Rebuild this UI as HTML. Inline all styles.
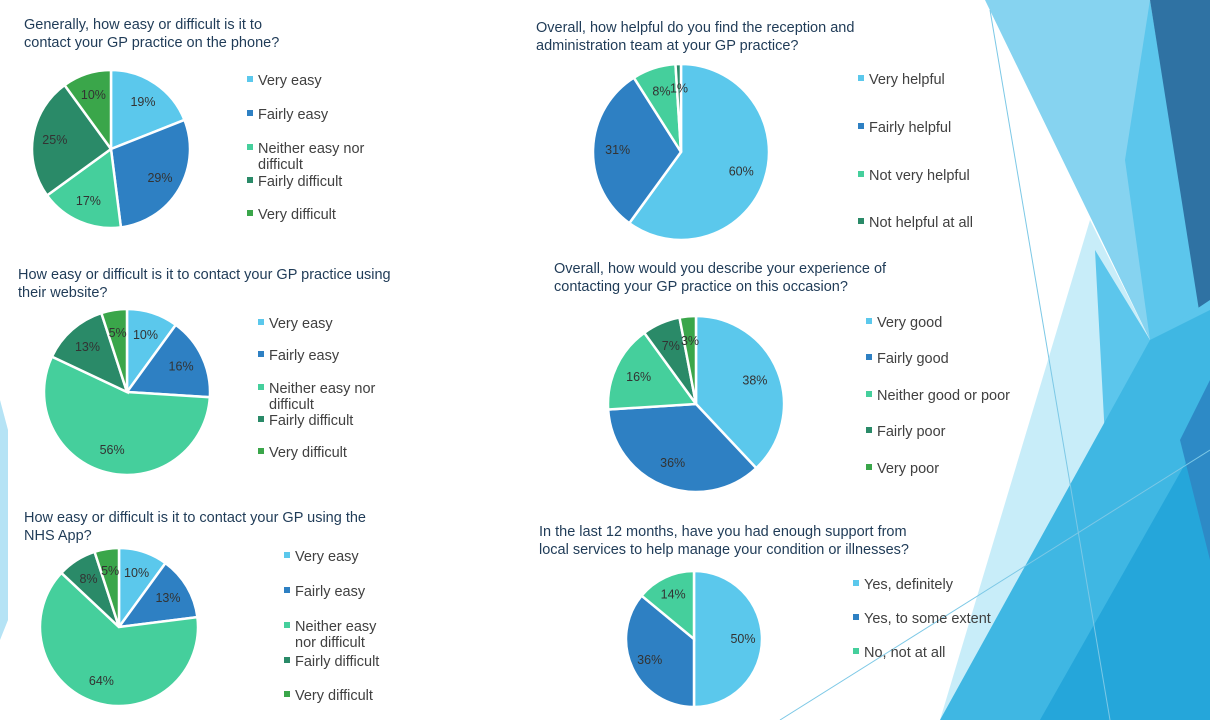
<!DOCTYPE html>
<html><head><meta charset="utf-8">
<style>
body{margin:0;width:1210px;height:720px;overflow:hidden;background:#fff;font-family:"Liberation Sans",sans-serif;}
svg{position:absolute;left:0;top:0}
.t{font-size:14.5px;fill:#1f3b57}
.l{font-size:14.5px;fill:#404040}
.p{font-size:12.5px;fill:#333}
</style></head><body>
<svg width="1210" height="720">
<g>
<polygon points="985,0 1150,0 1210,370 1210,720 1150,340" fill="#86d3f0"/>
<polygon points="1150,0 1210,370 1150,340 1125,160" fill="#5cc6ec"/>
<polygon points="1150,0 1210,0 1210,380" fill="#2f72a3"/>
<polygon points="1090,220 1150,340 955,720 940,720" fill="#c8edf9"/>
<polygon points="1095,250 1150,340 1210,300 1210,720 1120,720" fill="#5cc6ec"/>
<polygon points="940,720 1150,340 1210,310 1210,720" fill="#3fb7e3"/>
<polygon points="1040,720 1210,420 1210,720" fill="#25a6da"/>
<polygon points="1180,440 1210,380 1210,560" fill="#2d8ac6"/>
<polygon points="0,400 8,430 8,620 0,640" fill="#b5e3f5"/>
<line x1="990" y1="10" x2="1110" y2="720" stroke="#7cc8e6" stroke-width="1"/>
<line x1="780" y1="720" x2="1210" y2="450" stroke="#7cc8e6" stroke-width="1"/>
</g>
<g id="charts"></g>
</svg>
<script>
const cats1=["Very easy","Fairly easy","Neither easy nor|difficult","Fairly difficult","Very difficult"];
const vals1=[19,29,17,25,10];
const vals2=[10,16,56,13,5];
const vals3=[10,13,64,8,5];
const cats3=["Very easy","Fairly easy","Neither easy|nor difficult","Fairly difficult","Very difficult"];
const cats4=["Very helpful","Fairly helpful","Not very helpful","Not helpful at all"];
const vals4=[60,31,8,1];
const cats5=["Very good","Fairly good","Neither good or poor","Fairly poor","Very poor"];
const vals5=[38,36,16,7,3];
const cats6=["Yes, definitely","Yes, to some extent","No, not at all"];
const vals6=[50,36,14];
const colors=["#5bc8ec","#2e80c3","#45cf9c","#2a8a68","#3aa64a"];
const colors4=["#5bc8ec","#2e80c3","#45cf9c","#2a8a68"];
const NS="http://www.w3.org/2000/svg";
const root=document.getElementById('charts');
function mk(tag,attrs,parent){const e=document.createElementNS(NS,tag);for(const k in attrs)e.setAttribute(k,attrs[k]);parent.appendChild(e);return e;}
function chart(id,title,tx,ty,cats,vals,cx,cy,r,lx,ly,cols){
 const g=mk('g',{},root);
 
 
 title.forEach((t,i)=>{const e=mk('text',{x:tx,y:ty+i*18,class:'t'},g);e.textContent=t;
  
  });
 const tot=vals.reduce((a,b)=>a+b,0);let a0=-Math.PI/2;
 vals.forEach((v,i)=>{const a1=a0+v/tot*2*Math.PI;
  const x0=cx+r*Math.cos(a0),y0=cy+r*Math.sin(a0),x1=cx+r*Math.cos(a1),y1=cy+r*Math.sin(a1);
  const p=mk('path',{d:`M${cx},${cy}L${x0},${y0}A${r},${r} 0 ${a1-a0>Math.PI?1:0} 1 ${x1},${y1}Z`,fill:cols[i],stroke:'#fff','stroke-width':2.5},g);
  
  
  const am=(a0+a1)/2,lr=r*0.72;
  const t=mk('text',{x:cx+lr*Math.cos(am),y:cy+lr*Math.sin(am)+4,'text-anchor':'middle',class:'p'},g);t.textContent=v+'%';
  
  
  a0=a1;});
 cats.forEach((c,i)=>{const y=ly[i];
  const m=mk('rect',{x:lx,y:y-9,width:6,height:6,fill:cols[i]},g);
  
  
  c.split('|').forEach((s,j)=>{const t=mk('text',{x:lx+11,y:y+j*16,class:'l'},g);t.textContent=s;
   
   });});
}
chart('phone-chart',["Generally, how easy or difficult is it to","contact your GP practice on the phone?"],24,29,cats1,vals1,111,149,79,247,[85,119,153,186,219],colors);
chart('website-chart',["How easy or difficult is it to contact your GP practice using","their website?"],18,279,cats1,vals2,127,392,83,258,[328,360,393,425,457],colors);
chart('nhs-app-chart',["How easy or difficult is it to contact your GP using the","NHS App?"],24,522,cats3,vals3,119,627,79,284,[561,596,631,666,700],colors);
chart('reception-chart',["Overall, how helpful do you find the reception and","administration team at your GP practice?"],536,32,cats4,vals4,681,152,88,858,[84,132,180,227],colors4);
chart('experience-chart',["Overall, how would you describe your experience of","contacting your GP practice on this occasion?"],554,273,cats5,vals5,696,404,88,866,[327,363,400,436,473],colors);
chart('support-chart',["In the last 12 months, have you had enough support from","local services to help manage your condition or illnesses?"],539,536,cats6,vals6,694,639,68,853,[589,623,657],colors);
</script>
</body></html>
